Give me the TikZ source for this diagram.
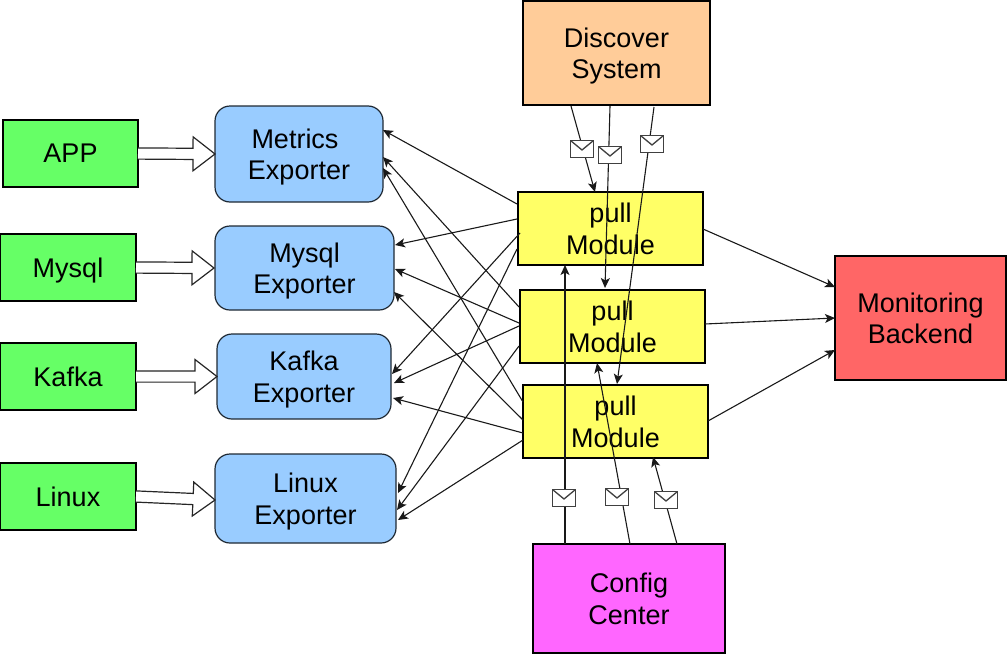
\documentclass[tikz,border=0pt]{standalone}
\usepackage{fontspec}
\setmainfont{Liberation Sans}
\usetikzlibrary{calc,arrows.meta}
\definecolor{cgreen}{HTML}{66FF66}
\definecolor{cblue}{HTML}{99CCFF}
\definecolor{cyellow}{HTML}{FFFF66}
\definecolor{corange}{HTML}{FFCC99}
\definecolor{cmagenta}{HTML}{FF66FF}
\definecolor{cred}{HTML}{FF6666}
\tikzset{
  box/.style={draw=black,line width=1.2pt,anchor=north west,inner sep=0pt,outer sep=0pt,align=center,text depth=0pt,
    font=\fontsize{27}{31.5}\selectfont},
  source/.style={box,fill=cgreen},
  exporter/.style={box,fill=cblue,rounded corners=15pt,draw=black!80!cblue},
  pullbox/.style={box,fill=cyellow},
  conn/.style={draw=black!90,line width=1.1pt,-{Stealth[length=10pt,width=9pt,inset=2.5pt]}},
  envelope/.style={draw=black!75,fill=white,line width=1.3pt,minimum width=23pt,minimum height=17pt,inner sep=0pt,
    path picture={\draw[black!75,line width=1.3pt] (path picture bounding box.north west)
      -- ($(path picture bounding box.center)+(0,1)$) -- (path picture bounding box.north east);}},
  hollow/.style={draw=black!85,fill=white,line width=1.2pt,line join=miter}
}
\newcommand{\hollowarrow}[2]{%
  \coordinate (hs) at (#1);\coordinate (he) at (#2);
  \coordinate (hb) at ($(he)!22pt!(hs)$);
  \draw[hollow] ($(hs)!5.6pt!90:(he)$) -- ($(hb)!5.6pt!90:(he)$) -- ($(hb)!17pt!90:(he)$) -- (he)
    -- ($(hb)!17pt!-90:(he)$) -- ($(hb)!5.6pt!-90:(he)$) -- ($(hs)!5.6pt!-90:(he)$);}
\begin{document}
\begin{tikzpicture}[x=1pt,y=-1pt]
\useasboundingbox (0,0) rectangle (1008,656);
% sources
\node[source,minimum width=135pt,minimum height=67pt] (app) at (3,120) {APP};
\node[source,minimum width=136pt,minimum height=67pt] (smysql) at (0,234) {Mysql};
\node[source,minimum width=136pt,minimum height=67pt] (skafka) at (0,343) {Kafka};
\node[source,minimum width=136pt,minimum height=67pt] (slinux) at (0,463) {Linux};
% exporters
\node[exporter,minimum width=168pt,minimum height=96pt] (em) at (215,106) {Metrics\hspace*{8pt}\\Exporter};
\node[exporter,minimum width=179pt,minimum height=84pt] (ey) at (215,226) {Mysql\\Exporter};
\node[exporter,minimum width=174pt,minimum height=85pt] (ek) at (217,334) {Kafka\\Exporter};
\node[exporter,minimum width=181pt,minimum height=89pt] (el) at (215,454) {Linux\\Exporter};
% pull modules
\node[pullbox,minimum width=185pt,minimum height=73pt] (p1) at (518,192) {pull\\Module};
\node[pullbox,minimum width=185pt,minimum height=73pt] (p2) at (520,290) {pull\\Module};
\node[pullbox,minimum width=185pt,minimum height=73pt] (p3) at (523,385) {pull\\Module};
% others
\node[box,fill=corange,minimum width=187pt,minimum height=104pt] (disc) at (523,1) {Discover\\System};
\node[box,fill=cmagenta,minimum width=192pt,minimum height=109pt] (conf) at (533,544) {Config\\Center};
\node[box,fill=cred,minimum width=171pt,minimum height=124pt] (mon) at (835,256) {Monitoring\\Backend};
% hollow arrows
\hollowarrow{app.east}{em.west}
\hollowarrow{smysql.east}{$(ey.west)+(-1,0)$}
\hollowarrow{skafka.east}{ek.west}
\hollowarrow{slinux.east}{$(el.west)+(0,1.5)$}
% pull -> exporters
\draw[conn] ($(p1.north west)+(-1,12)$) -- ($(em.north east)+(0,24)$);
\draw[conn] ($(p2.north west)+(-1,17)$) -- ($(em.north east)+(0,51)$);
\draw[conn] ($(p3.north west)+(0,17)$) -- ($(em.north east)+(0,62)$);
\draw[conn] ($(p1.north west)+(-1,27)$) -- ($(ey.north east)+(1,19)$);
\draw[conn] ($(p2.north west)+(-1,33)$) -- ($(ey.north east)+(1,43)$);
\draw[conn] ($(p3.north west)+(0,35)$) -- ($(ey.north east)+(0,66)$);
\draw[conn] ($(p1.north west)+(2,41)$) -- ($(ek.north east)+(1,40)$);
\draw[conn] ($(p2.north west)+(-1,36)$) -- ($(ek.north east)+(3,49)$);
\draw[conn] ($(p3.north west)+(0,48)$) -- ($(ek.north east)+(2,64)$);
\draw[conn] ($(p1.north west)+(-1,57)$) -- ($(el.north east)+(2,39)$);
\draw[conn] ($(p2.north west)+(-1,56)$) -- ($(el.north east)+(1,56)$);
\draw[conn] ($(p3.north west)+(0,55)$) -- ($(el.north east)+(2,66)$);
% pull -> monitoring
\draw[conn] ($(p1.north east)+(0,37)$) -- ($(mon.north west)+(0,31)$);
\draw[conn] ($(p2.north east)+(0,34)$) -- ($(mon.north west)+(0,62)$);
\draw[conn] ($(p3.north east)+(0,36)$) -- ($(mon.north west)+(0,94)$);
% discover -> pull
\draw[conn] ($(disc.south west)+(48,1)$) -- ($(p1.north west)+(77,0)$);
\draw[conn] ($(disc.south west)+(87,1)$) -- ($(p2.north west)+(85,-2)$);
\draw[conn] ($(disc.south west)+(131,2)$) -- ($(p3.north west)+(94,-1)$);
% config -> pull
\draw[conn] ($(conf.north west)+(32,0)$) -- ($(p1.south west)+(47,0)$);
\draw[conn] ($(conf.north west)+(97,0)$) -- ($(p2.south west)+(77,0)$);
\draw[conn] ($(conf.north west)+(144,0)$) -- ($(p3.south west)+(130,-1)$);
% envelopes
\node[envelope] (d1) at (582,149) {};
\node[envelope] (d2) at (610,155) {};
\node[envelope] (d3) at (652,144) {};
\node[envelope] (c1) at (564,498) {};
\node[envelope] (c2) at (617,497) {};
\node[envelope] (c3) at (666,500) {};
\end{tikzpicture}
\end{document}
